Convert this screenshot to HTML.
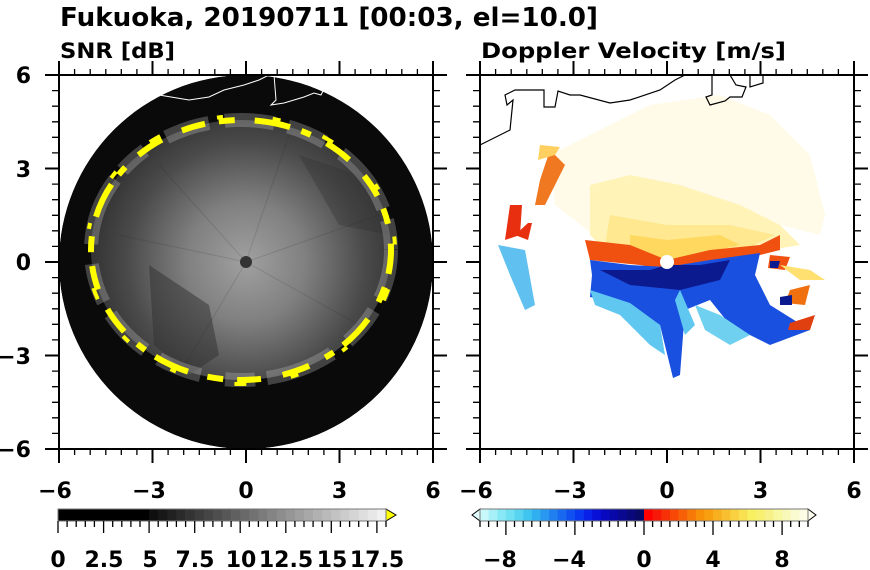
<!DOCTYPE html>
<html><head><meta charset="utf-8"><style>
html,body{margin:0;padding:0;background:#fff;}
svg{display:block;font-family:"DejaVu Sans","Liberation Sans",sans-serif;font-weight:bold;}
</style></head><body>
<svg width="870" height="570" viewBox="0 0 870 570" xmlns="http://www.w3.org/2000/svg">
<defs>
<radialGradient id="snr" cx="187" cy="187" r="170" gradientUnits="userSpaceOnUse">
<stop offset="0" stop-color="#a0a0a0"/><stop offset="0.35" stop-color="#808080"/>
<stop offset="0.7" stop-color="#4a4a4a"/><stop offset="1" stop-color="#2a2a2a"/>
</radialGradient>
<clipPath id="cl"><rect x="0" y="0" width="374" height="374"/></clipPath>
<clipPath id="cc"><circle cx="187" cy="187" r="187"/></clipPath>
</defs>
<text x="60" y="26" font-size="26" textLength="538" lengthAdjust="spacingAndGlyphs">Fukuoka, 20190711 [00:03, el=10.0]</text>
<text x="60" y="58" font-size="21" textLength="115" lengthAdjust="spacingAndGlyphs">SNR [dB]</text>
<text x="481" y="58" font-size="21" textLength="305" lengthAdjust="spacingAndGlyphs">Doppler Velocity [m/s]</text>

<!-- Left panel -->
<g transform="translate(59,75)">
<g clip-path="url(#cc)">
<circle cx="187" cy="187" r="187" fill="#0a0a0a"/>
<ellipse cx="182" cy="175" rx="150" ry="130" fill="url(#snr)"/>
<polygon points="90,190 150,230 160,280 130,300 95,270" fill="#303030" opacity="0.5"/>
<polygon points="240,80 300,100 330,160 280,150" fill="#303030" opacity="0.35"/>
<g stroke="#222" stroke-width="1" opacity="0.15">
<line x1="187" y1="187" x2="60" y2="160"/><line x1="187" y1="187" x2="120" y2="300"/>
<line x1="187" y1="187" x2="230" y2="60"/><line x1="187" y1="187" x2="300" y2="250"/>
<line x1="187" y1="187" x2="100" y2="90"/><line x1="187" y1="187" x2="320" y2="140"/>
</g>
<ellipse cx="182" cy="175" rx="150" ry="130" fill="none" stroke="#c8c8c8" stroke-width="14" opacity="0.3" stroke-dasharray="50 14 40 20 70 12 30 25 45 16"/>
<ellipse cx="182" cy="175" rx="150" ry="130" fill="none" stroke="#ffff00" stroke-width="6" stroke-dasharray="24 14 16 20 36 12 10 18 28 22"/>
<ellipse cx="182" cy="175" rx="154" ry="134" fill="none" stroke="#ffff00" stroke-width="4" stroke-dasharray="8 45 12 60 6 50" stroke-dashoffset="13"/>
<circle cx="187" cy="187" r="6" fill="#333"/>
<polyline points="100,20 130,25 150,22 165,15 185,10 200,5 210,0" fill="none" stroke="#fff" stroke-width="1"/>
<polyline points="215,0 217,25 212,30 225,28 245,22 255,18 262,20 268,8 258,5" fill="none" stroke="#fff" stroke-width="1"/>
</g>
</g>
<!-- Right panel -->
<g transform="translate(480,75)">
<g clip-path="url(#cl)">
<polygon points="70,80 110,60 170,30 240,20 290,40 330,80 345,140 340,160 300,150 250,165 187,180 120,165 75,130" fill="#fffbe8"/>
<polygon points="110,110 150,100 200,110 260,130 300,150 320,170 290,175 240,175 187,187 130,180 110,160" fill="#fff3b8"/>
<polygon points="130,140 187,150 250,150 295,160 270,172 187,185 125,170" fill="#ffe890"/>
<polygon points="150,160 187,165 240,160 260,170 187,185 150,178" fill="#ffd860"/>
<polygon points="105,165 150,170 187,185 230,175 280,170 300,160 300,175 260,185 210,190 187,195 160,190 110,185" fill="#f05010"/>
<polygon points="110,185 150,190 187,192 230,185 280,178 275,200 290,230 330,255 290,270 250,250 230,225 205,235 200,300 193,303 180,250 150,230 110,222 112,200" fill="#1a50e0"/>
<polygon points="120,195 170,195 187,190 220,190 250,185 240,205 200,215 150,210" fill="#0c1a90"/>
<polygon points="110,215 150,228 180,250 185,280 170,270 140,240 115,230" fill="#60c8f0"/>
<polygon points="200,215 215,250 205,260 195,225" fill="#60c8f0"/>
<polygon points="215,230 240,240 270,260 250,270 225,255" fill="#70d0f0"/>
<polygon points="70,75 85,90 65,130 55,130 60,105" fill="#f07820"/>
<polygon points="60,70 80,72 75,80 58,85" fill="#ffd060"/>
<polygon points="30,130 42,130 40,160 25,165" fill="#e83010"/>
<polygon points="48,148 52,148 48,165 35,160" fill="#e83010"/>
<polygon points="18,170 45,175 55,230 45,235 30,200" fill="#60c0f0"/>
<polygon points="290,180 310,182 305,195 288,193" fill="#f05010"/>
<polygon points="290,186 300,186 298,193 290,193" fill="#0c1a90"/>
<polygon points="310,215 330,210 325,230 305,228" fill="#f07010"/>
<polygon points="300,222 312,220 312,230 300,230" fill="#0c1a90"/>
<polygon points="310,248 335,240 330,255 308,255" fill="#e04010"/>
<polygon points="300,190 330,195 345,205 320,205" fill="#ffe070"/>
<circle cx="187" cy="187" r="7" fill="#fff"/>
<polyline points="0,70 30,55 33,25 27,30 25,20 35,15 64,15 64,32 75,32 78,16 90,20 100,20 130,28 150,25 180,15 195,5 205,0" fill="none" stroke="#000" stroke-width="1.2"/>
<polyline points="232,0 232,20 226,22 230,30 245,26 250,22 262,22 266,12 256,10 250,0" fill="none" stroke="#000" stroke-width="1.2"/>
<polyline points="270,0 270,12 283,8 283,0" fill="none" stroke="#000" stroke-width="1.2"/>
</g>
</g>

<g stroke="#000" fill="none">
<rect x="59" y="75" width="374" height="374" stroke-width="2"/>
<rect x="480" y="75" width="374" height="374" stroke-width="2"/>
<path stroke-width="2" d="
M59 61V75M152.5 61V75M246 61V75M339.5 61V75M433 61V75
M59 449V463M152.5 449V463M246 449V463M339.5 449V463M433 449V463
M45 75H59M45 168.5H59M45 262H59M45 355.5H59M45 449H59
M433 75H447M433 168.5H447M433 262H447M433 355.5H447M433 449H447
M480 61V75M573.5 61V75M667 61V75M760.5 61V75M854 61V75
M480 449V463M573.5 449V463M667 449V463M760.5 449V463M854 449V463
M466 75H480M466 168.5H480M466 262H480M466 355.5H480M466 449H480
M854 75H868M854 168.5H868M854 262H868M854 355.5H868M854 449H868"/>
<path stroke-width="1.3" d="
M74.6 69V75M90.2 69V75M105.8 69V75M121.3 69V75M136.9 69V75M168.1 69V75M183.7 69V75M199.3 69V75M214.8 69V75M230.4 69V75M261.6 69V75M277.2 69V75M292.8 69V75M308.3 69V75M323.9 69V75M355.1 69V75M370.7 69V75M386.3 69V75M401.8 69V75M417.4 69V75
M74.6 449V455M90.2 449V455M105.8 449V455M121.3 449V455M136.9 449V455M168.1 449V455M183.7 449V455M199.3 449V455M214.8 449V455M230.4 449V455M261.6 449V455M277.2 449V455M292.8 449V455M308.3 449V455M323.9 449V455M355.1 449V455M370.7 449V455M386.3 449V455M401.8 449V455M417.4 449V455
M495.6 69V75M511.2 69V75M526.8 69V75M542.3 69V75M557.9 69V75M589.1 69V75M604.7 69V75M620.3 69V75M635.8 69V75M651.4 69V75M682.6 69V75M698.2 69V75M713.8 69V75M729.3 69V75M744.9 69V75M776.1 69V75M791.7 69V75M807.3 69V75M822.8 69V75M838.4 69V75
M495.6 449V455M511.2 449V455M526.8 449V455M542.3 449V455M557.9 449V455M589.1 449V455M604.7 449V455M620.3 449V455M635.8 449V455M651.4 449V455M682.6 449V455M698.2 449V455M713.8 449V455M729.3 449V455M744.9 449V455M776.1 449V455M791.7 449V455M807.3 449V455M822.8 449V455M838.4 449V455
M52 90.6H59M52 106.2H59M52 121.8H59M52 137.3H59M52 152.9H59M52 184.1H59M52 199.7H59M52 215.3H59M52 230.8H59M52 246.4H59M52 277.6H59M52 293.2H59M52 308.8H59M52 324.3H59M52 339.9H59M52 371.1H59M52 386.7H59M52 402.3H59M52 417.8H59M52 433.4H59
M433 90.6H440M433 106.2H440M433 121.8H440M433 137.3H440M433 152.9H440M433 184.1H440M433 199.7H440M433 215.3H440M433 230.8H440M433 246.4H440M433 277.6H440M433 293.2H440M433 308.8H440M433 324.3H440M433 339.9H440M433 371.1H440M433 386.7H440M433 402.3H440M433 417.8H440M433 433.4H440
M473 90.6H480M473 106.2H480M473 121.8H480M473 137.3H480M473 152.9H480M473 184.1H480M473 199.7H480M473 215.3H480M473 230.8H480M473 246.4H480M473 277.6H480M473 293.2H480M473 308.8H480M473 324.3H480M473 339.9H480M473 371.1H480M473 386.7H480M473 402.3H480M473 417.8H480M473 433.4H480
M854 90.6H861M854 106.2H861M854 121.8H861M854 137.3H861M854 152.9H861M854 184.1H861M854 199.7H861M854 215.3H861M854 230.8H861M854 246.4H861M854 277.6H861M854 293.2H861M854 308.8H861M854 324.3H861M854 339.9H861M854 371.1H861M854 386.7H861M854 402.3H861M854 417.8H861M854 433.4H861"/>
</g>

<g font-size="22" text-anchor="end">
<text x="31" y="83">6</text><text x="31" y="177">3</text><text x="31" y="270">0</text><text x="31" y="364">−3</text><text x="31" y="457">−6</text>
</g>
<g font-size="22" text-anchor="middle">
<text x="55" y="498">−6</text><text x="149" y="498">−3</text><text x="246" y="498">0</text><text x="339.5" y="498">3</text><text x="433" y="498">6</text>
<text x="476" y="498">−6</text><text x="570" y="498">−3</text><text x="667" y="498">0</text><text x="760.5" y="498">3</text><text x="854" y="498">6</text>
</g>

<!-- SNR colorbar -->
<g>
<rect x="58" y="509" width="91.5" height="12" fill="#000"/>
<rect x="149.1" y="509" width="9.4" height="12" fill="#0f0f0f"/>
<rect x="158.2" y="509" width="9.4" height="12" fill="#181818"/>
<rect x="167.3" y="509" width="9.4" height="12" fill="#212121"/>
<rect x="176.4" y="509" width="9.4" height="12" fill="#2a2a2a"/>
<rect x="185.6" y="509" width="9.4" height="12" fill="#333"/>
<rect x="194.7" y="509" width="9.4" height="12" fill="#3c3c3c"/>
<rect x="203.8" y="509" width="9.4" height="12" fill="#454545"/>
<rect x="212.9" y="509" width="9.4" height="12" fill="#4e4e4e"/>
<rect x="222.0" y="509" width="9.4" height="12" fill="#575757"/>
<rect x="231.1" y="509" width="9.4" height="12" fill="#606060"/>
<rect x="240.2" y="509" width="9.4" height="12" fill="#696969"/>
<rect x="249.3" y="509" width="9.4" height="12" fill="#727272"/>
<rect x="258.4" y="509" width="9.4" height="12" fill="#7b7b7b"/>
<rect x="267.6" y="509" width="9.4" height="12" fill="#848484"/>
<rect x="276.7" y="509" width="9.4" height="12" fill="#8d8d8d"/>
<rect x="285.8" y="509" width="9.4" height="12" fill="#969696"/>
<rect x="294.9" y="509" width="9.4" height="12" fill="#9f9f9f"/>
<rect x="304.0" y="509" width="9.4" height="12" fill="#a8a8a8"/>
<rect x="313.1" y="509" width="9.4" height="12" fill="#b1b1b1"/>
<rect x="322.2" y="509" width="9.4" height="12" fill="#bababa"/>
<rect x="331.3" y="509" width="9.4" height="12" fill="#c3c3c3"/>
<rect x="340.4" y="509" width="9.4" height="12" fill="#cccccc"/>
<rect x="349.6" y="509" width="9.4" height="12" fill="#d5d5d5"/>
<rect x="358.7" y="509" width="9.4" height="12" fill="#dedede"/>
<rect x="367.8" y="509" width="9.4" height="12" fill="#e7e7e7"/>
<rect x="376.9" y="509" width="9.1" height="12" fill="#f0f0f0"/>
<polygon points="386,509 396,515 386,521" fill="#ffff00" stroke="#000" stroke-width="1"/>
<rect x="58" y="509" width="328" height="12" fill="none" stroke="#777" stroke-width="1"/>
<path stroke="#000" stroke-width="1.3" d="M58 521V533M67.1 521V527M76.2 521V527M85.3 521V527M94.4 521V527M103.6 521V533M112.7 521V527M121.8 521V527M130.9 521V527M140 521V527M149.1 521V533M158.2 521V527M167.3 521V527M176.4 521V527M185.6 521V527M194.7 521V533M203.8 521V527M212.9 521V527M222 521V527M231.1 521V527M240.2 521V533M249.3 521V527M258.4 521V527M267.6 521V527M276.7 521V527M285.8 521V533M294.9 521V527M304 521V527M313.1 521V527M322.2 521V527M331.3 521V533M340.4 521V527M349.6 521V527M358.7 521V527M367.8 521V527M376.9 521V533M386 521V527"/>
</g>
<!-- Velocity colorbar -->
<g>
<rect x="480" y="509" width="9" height="12" fill="#c8f8fa"/>
<rect x="488.6" y="509" width="9" height="12" fill="#a8f0f8"/>
<rect x="497.3" y="509" width="9" height="12" fill="#88e8f5"/>
<rect x="505.9" y="509" width="9" height="12" fill="#70e0f2"/>
<rect x="514.5" y="509" width="9" height="12" fill="#58d4f0"/>
<rect x="523.2" y="509" width="9" height="12" fill="#40c4f0"/>
<rect x="531.8" y="509" width="9" height="12" fill="#30b0f0"/>
<rect x="540.4" y="509" width="9" height="12" fill="#2898f0"/>
<rect x="549.0" y="509" width="9" height="12" fill="#2080f0"/>
<rect x="557.7" y="509" width="9" height="12" fill="#1868f0"/>
<rect x="566.3" y="509" width="9" height="12" fill="#1050f0"/>
<rect x="574.9" y="509" width="9" height="12" fill="#0a38f0"/>
<rect x="583.6" y="509" width="9" height="12" fill="#0820e8"/>
<rect x="592.2" y="509" width="9" height="12" fill="#0810d8"/>
<rect x="600.8" y="509" width="9" height="12" fill="#0808c0"/>
<rect x="609.5" y="509" width="9" height="12" fill="#0808a8"/>
<rect x="618.1" y="509" width="9" height="12" fill="#080890"/>
<rect x="626.7" y="509" width="9" height="12" fill="#08087a"/>
<rect x="635.3" y="509" width="9" height="12" fill="#080866"/>
<rect x="644" y="509" width="9" height="12" fill="#ff0000"/>
<rect x="652.6" y="509" width="9" height="12" fill="#f81808"/>
<rect x="661.3" y="509" width="9" height="12" fill="#f83008"/>
<rect x="669.9" y="509" width="9" height="12" fill="#f84808"/>
<rect x="678.5" y="509" width="9" height="12" fill="#f86008"/>
<rect x="687.2" y="509" width="9" height="12" fill="#f87808"/>
<rect x="695.8" y="509" width="9" height="12" fill="#f89008"/>
<rect x="704.4" y="509" width="9" height="12" fill="#f8a010"/>
<rect x="713.0" y="509" width="9" height="12" fill="#f8b020"/>
<rect x="721.7" y="509" width="9" height="12" fill="#f8c030"/>
<rect x="730.3" y="509" width="9" height="12" fill="#f8d040"/>
<rect x="738.9" y="509" width="9" height="12" fill="#f8e050"/>
<rect x="747.6" y="509" width="9" height="12" fill="#f8f060"/>
<rect x="756.2" y="509" width="9" height="12" fill="#f8f070"/>
<rect x="764.8" y="509" width="9" height="12" fill="#f8f088"/>
<rect x="773.5" y="509" width="9" height="12" fill="#f8f8a0"/>
<rect x="782.1" y="509" width="9" height="12" fill="#f8f8b8"/>
<rect x="790.7" y="509" width="9" height="12" fill="#fafad0"/>
<rect x="799.3" y="509" width="8.7" height="12" fill="#fcfce4"/>
<polygon points="480,509 472,515 480,521" fill="#e0fcfc" stroke="#000" stroke-width="1"/>
<polygon points="808,509 816,515 808,521" fill="#fffff0" stroke="#000" stroke-width="1"/>
<rect x="480" y="509" width="328" height="12" fill="none" stroke="#777" stroke-width="1"/>
<path stroke="#000" stroke-width="1.3" d="M480 521V527M488.6 521V527M497.3 521V527M505.9 521V535M514.5 521V527M523.2 521V527M531.8 521V527M540.4 521V527M549 521V527M557.7 521V527M566.3 521V527M574.9 521V535M583.6 521V527M592.2 521V527M600.8 521V527M609.5 521V527M618.1 521V527M626.7 521V527M635.3 521V527M644 521V535M652.6 521V527M661.3 521V527M669.9 521V527M678.5 521V527M687.2 521V527M695.8 521V527M704.4 521V527M713 521V535M721.7 521V527M730.3 521V527M738.9 521V527M747.6 521V527M756.2 521V527M764.8 521V527M773.5 521V527M782.1 521V535M790.7 521V527M799.3 521V527M808 521V527"/>
</g>
<g font-size="22" text-anchor="middle">
<text x="58" y="567">0</text><text x="104" y="567">2.5</text><text x="150" y="567">5</text><text x="195" y="567">7.5</text><text x="241" y="567">10</text><text x="286" y="567">12.5</text><text x="332" y="567">15</text><text x="377" y="567">17.5</text>
<text x="500" y="567">−8</text><text x="569" y="567">−4</text><text x="644" y="567">0</text><text x="713" y="567">4</text><text x="782" y="567">8</text>
</g>
</svg>
</body></html>
